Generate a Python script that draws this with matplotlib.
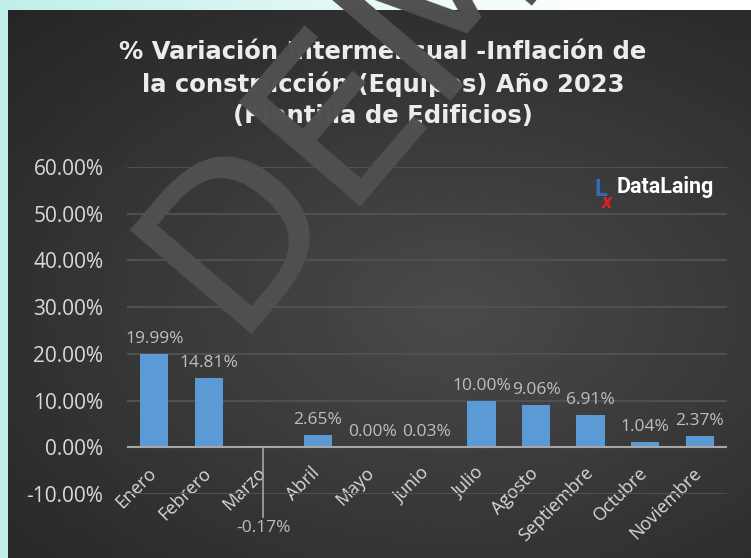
import numpy as np
import matplotlib
matplotlib.use('Agg')
import matplotlib.pyplot as plt
import matplotlib.transforms as mtransforms
from matplotlib.ticker import FuncFormatter

# Datos
meses = ['Enero', 'Febrero', 'Marzo', 'Abril', 'Mayo', 'Junio', 'Julio',
         'Agosto', 'Septiembre', 'Octubre', 'Noviembre']
variacion = [19.99, 14.81, -0.17, 2.65, 0.00, 0.03, 10.00, 9.06, 6.91, 1.04, 2.37]
titulo = ('% Variación Intermensual -Inflación de\n'
          'la construcción (Equipos) Año 2023\n'
          '(Plantilla de Edificios)')

W, H = 751, 558
fig = plt.figure(figsize=(W / 100, H / 100), dpi=100)

# Fondo de la figura: degradado cian -> blanco
bg = fig.add_axes([0, 0, 1, 1], zorder=-10)
xx = np.linspace(0, 1, 300)
grad = np.clip(xx / 0.8, 0, 1)
c1 = np.array([0.75, 0.94, 0.91])
c2 = np.array([1.0, 1.0, 1.0])
img = c1[None, None, :] * (1 - grad[None, :, None]) + c2[None, None, :] * grad[None, :, None]
bg.imshow(np.repeat(img, 2, axis=0), aspect='auto', extent=[0, 1, 0, 1])
bg.axis('off')

# Panel oscuro con degradado radial
px0 = 8 / W
panel = fig.add_axes([px0, 0, 1 - px0, 1 - 10 / H], zorder=-9)
yy, xg = np.mgrid[0:1:200j, 0:1:300j]
r = np.sqrt(((xg - 0.6) / 0.9) ** 2 + ((yy - 0.55) / 0.8) ** 2)
val = 0.29 - 0.15 * np.clip(r, 0, 1)
panel.imshow(val, cmap='gray', vmin=0, vmax=1, aspect='auto', extent=[0, 1, 0, 1])
panel.axis('off')

ax = fig.add_axes([127 / W, 1 - 494 / H, 600 / W, (494 - 167) / H])
ax.patch.set_alpha(0)

x = np.arange(len(meses))
ax.bar(x, variacion, width=0.52, color='#5b9bd5', zorder=3)
ax.set_xlim(-0.5, len(meses) - 0.5)
ax.set_ylim(-10, 60)
ax.set_yticks(np.arange(-10, 61, 10))
ax.yaxis.set_major_formatter(FuncFormatter(lambda v, p: f'{v:.2f}%'))
ax.grid(axis='y', color='#505050', linewidth=1.5, zorder=0)
ax.axhline(0, color='#a6a6a6', linewidth=1.5, zorder=4)
for s in ax.spines.values():
    s.set_visible(False)
ax.spines['bottom'].set_position(('data', 0))
ax.tick_params(axis='both', length=0, colors='#d9d9d9')
ax.tick_params(axis='y', pad=17, labelsize=15)
ax.set_xticks(x)
ax.set_xticklabels(meses, rotation=45, ha='right', rotation_mode='anchor',
                   fontsize=13, color='#d9d9d9', family='Open Sans')
for lab in ax.get_yticklabels():
    lab.set_family('Open Sans')
ax.tick_params(axis='x', pad=12)
desplaz = mtransforms.ScaledTranslation(-5 / 72, 0, fig.dpi_scale_trans)
for lab in ax.get_xticklabels():
    lab.set_transform(lab.get_transform() + desplaz)

# Etiquetas de datos
for i, v in enumerate(variacion):
    if v < 0:
        ax.plot([i, i], [0, -15], color='#a6a6a6', linewidth=1.2, clip_on=False, zorder=4)
        ax.annotate(f'{v:.2f}%', (i, -15), xytext=(0, -2), textcoords='offset points',
                    ha='center', va='top', color='#bfbfbf', fontsize=12.5,
                    family='Open Sans', annotation_clip=False)
    else:
        ax.annotate(f'{v:.2f}%', (i, v), xytext=(0, 5), textcoords='offset points',
                    ha='center', va='bottom', color='#bfbfbf', fontsize=12.5,
                    family='Open Sans')

# Título
fig.text(383 / W, 1 - 84 / H, titulo, ha='center', va='center', color='#ececec',
         fontsize=17.5, fontweight='bold', linespacing=1.38, family='DejaVu Sans')

# Logo
fig.text(617 / W, 1 - 187 / H, 'DataLaing', ha='left', va='center', color='white',
         fontsize=15.5, fontweight='bold', family='Roboto')
fig.text(595 / W, 1 - 190 / H, 'L', ha='left', va='center', color='#2f6db5',
         fontsize=17, fontweight='bold', family='Roboto')
fig.text(602 / W, 1 - 202 / H, 'x', ha='left', va='center', color='#e02020',
         fontsize=15, fontweight='bold', style='italic', family='Roboto')

# Marca de agua
fig.text(402 / W, 1 - 40 / H, 'DEMO', ha='center', va='center', color='#505050',
         fontsize=158, rotation=49.5, zorder=20)

fig.savefig('out.png', dpi=100)
